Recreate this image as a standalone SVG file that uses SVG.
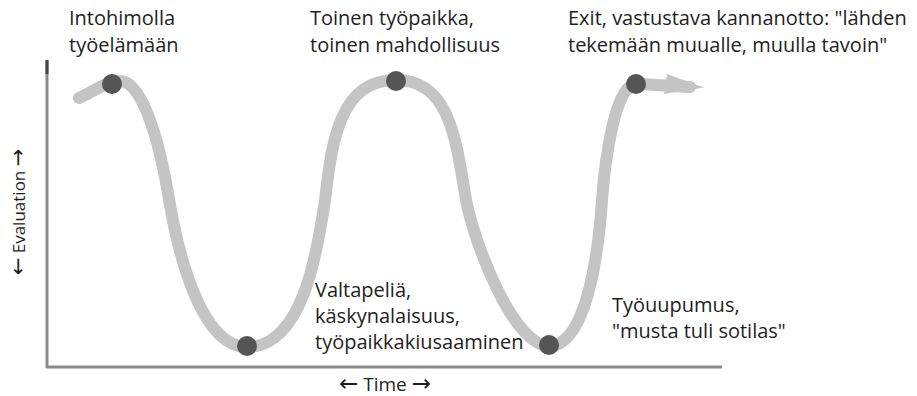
<svg xmlns="http://www.w3.org/2000/svg" width="917" height="396" viewBox="0 0 917 396">
  <style>
    .lbl { font-family: "Open Sans", "Noto Sans", "DejaVu Sans", sans-serif; font-size: 20px; fill: #1e1e1e; }
    .axlbl { font-family: "Open Sans", "DejaVu Sans", sans-serif; fill: #1e1e1e; }
    .arr { font-family: "DejaVu Sans", sans-serif; }
    .axis { stroke: #8a8a8a; stroke-width: 3; fill: none; }
    .curve { stroke: #c4c4c4; stroke-width: 12; fill: none; stroke-linecap: round; stroke-linejoin: round; }
    .dot { fill: #555555; }
  </style>
  <rect width="917" height="396" fill="#ffffff"/>
  <g id="axes">
    <line class="axis" x1="47" y1="60" x2="47" y2="368"/>
    <line x1="47" y1="60" x2="47" y2="74" stroke="#444" stroke-width="3"/>
    <line class="axis" x1="46" y1="367" x2="722" y2="367"/>
    <text class="axlbl" text-anchor="middle" x="385" y="391" font-size="19"><tspan class="arr" font-size="23">←</tspan> Time <tspan class="arr" font-size="23">→</tspan></text>
    <text class="axlbl" text-anchor="middle" font-size="17" transform="translate(25,212) rotate(-90)"><tspan class="arr" font-size="21">←</tspan> Evaluation <tspan class="arr" font-size="21">→</tspan></text>
  </g>
  <g id="connectors">
    <path class="curve" d="M79,98 C95,91 106,81 120,81 C140,81 158,130 170,205 C178,250 200,347 247,347 C302,347 317,255 325,200 C332,140 340,80 396,80 C450,80 456,140 466,200 C476,250 515,346 549,346 C585,346 598,260 602,200 C605,160 615,84 636,84 C650,84 665,86 690,87"/>
    <polygon points="667,74 704,87.5 664,94" fill="#c4c4c4"/>
  </g>
  <g id="node-intohimo">
    <circle class="dot" cx="112" cy="84" r="10"/>
    <text class="lbl" x="69" y="25">Intohimolla</text>
    <text class="lbl" x="69" y="52">työelämään</text>
  </g>
  <g id="node-valtapeli">
    <circle class="dot" cx="247" cy="346" r="10"/>
    <text class="lbl" x="315" y="297">Valtapeliä,</text>
    <text class="lbl" x="315" y="323">käskynalaisuus,</text>
    <text class="lbl" x="315" y="349">työpaikkakiusaaminen</text>
  </g>
  <g id="node-toinen">
    <circle class="dot" cx="396" cy="81" r="10"/>
    <text class="lbl" x="310" y="25">Toinen työpaikka,</text>
    <text class="lbl" x="310" y="52">toinen mahdollisuus</text>
  </g>
  <g id="node-tyouupumus">
    <circle class="dot" cx="549" cy="345" r="10"/>
    <text class="lbl" x="612" y="312">Työuupumus,</text>
    <text class="lbl" x="612" y="338">"musta tuli sotilas"</text>
  </g>
  <g id="node-exit">
    <circle class="dot" cx="636" cy="84" r="10"/>
    <text class="lbl" x="568" y="25">Exit, vastustava kannanotto: "lähden</text>
    <text class="lbl" x="568" y="52">tekemään muualle, muulla tavoin"</text>
  </g>
</svg>
